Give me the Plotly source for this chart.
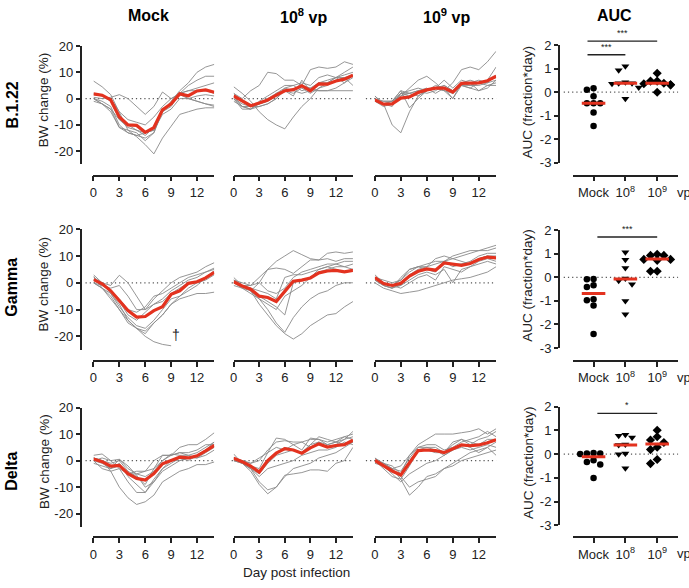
import plotly.graph_objects as go

W, H = 689, 588
FONT = "Liberation Sans, Arial, Helvetica, sans-serif"
INK = "#222222"
GREY = "#8a8a8a"
RED = "#e3321f"

# ---------------- data ----------------
days = list(range(15))
variants = ["B.1.22", "Gamma", "Delta"]
groups = ["Mock", "10<sup>8</sup> vp", "10<sup>9</sup> vp"]
auc_labels = ["Mock", "10<sup>8</sup>", "10<sup>9</sup>"]
day_ticks = [0, 3, 6, 9, 12]
bw_ticks = [20, 10, 0, -10, -20]
bw_ticktext = ["20", "10", "0", "-10", "-20"]
auc_ticks = [2, 1, 0, -1, -2, -3]
auc_ticktext = ["2", "1", "0", "-1", "-2", "-3"]

# body-weight change (%) of individual animals, days 0..14
b122_mock = [
    [6.7, 4.5, 1.5, -5, -12, -14.5, -17.5, -21, -15, -10.5, -6, -5, -4, -3.5, -3.5],
    [0.5, 0, 0.5, 1.5, 0, -3, -6, -3, 2.5, 0, 1.5, 0, -1, -2, -2.5],
    [0, -1, -3, -10, -13, -14, -15, -13, -4, -2, 2, 5, 7, 8.5, 8.5],
    [1.5, 1, -1, -8, -10, -12, -14, -11, -5, -1, 3, 6, 10, 12, 13],
    [0, -2, -5, -11, -12, -13, -16, -13, -5, -3, 2, 3, 4, 5, 6],
    [2, 1, 0, -5, -8, -9, -10, -7, -3, 0, 2, 3, 3, 3, 2],
    [0, -2, -4, -8, -11, -12, -13, -12, -6, -4, 0, 0, 1, 1.5, 1],
    [-1, -2, -4, -11, -13, -14, -13, -12, -4, -2, 2, 0, -1, -2, -3],
]
b122_mock_mean = [1.8, 1.3, -0.5, -7, -10, -10.2, -12.8, -11, -4.3, -2, 1.8, 1.1, 2.9, 3.3, 2.4]

b122_e8 = [
    [4.5, 2, -1, -5, -8, -10, -11.5, -7, -3, 0, 4, 6, 8, 8, 5],
    [2, 0, 3, 5, 10, 9.5, 7, 7, 5, 4, 3, 3, 3, 3, 3],
    [0, -3, -4, -3, -2, 0, 3, 3, 5, 11, 12, 11.5, 12, 14, 13],
    [1, -3, -4, -2, -1, 2, 4, 5, 6, 5, 8, 9, 8, 9, 10],
    [0, -4, -4, -1, 1, 3, 5, 5, 3, 4, 6, 7, 8, 10, 12],
    [2, -1, -3, -2, -1, 1, 3, 2, 4, 2, 4, 5, 7, 8, 9],
    [0, -2, -3, -2, 0, 2, 3, 1, 7, 3, 6, 6, 8, 6, 8],
    [-1, -3, -3, -3, -2, 0, 4, 3, 2, 3, 3, 3, 4, 6, 9],
]
b122_e8_mean = [1, -0.9, -2.7, -1.7, -0.5, 1.3, 3, 3.4, 4.9, 3, 5.6, 5.5, 6.7, 7.4, 8.9]

b122_e9 = [
    [0, -2, -10, -13, -5, 1, 3, 4, 5, 3, 6, 7, 6, 5, 6],
    [-1, -3, -2, 1, 4, 7, 8.5, 6, 3, 6, 11, 12, 11, 14, 18],
    [1, -2, -1, 3, -3.5, 0, 3, 4, 3, 2, 5, 5, 6, 7, 12],
    [0, -1, -1, 3, 2, 3, 4, 2, 4, 0, 6, 6, 3, 5, 5],
    [-1, -2, -1, 1, 2, 3, 2, 3, 5, 3, 6, 5, 5, 6, 7],
    [0, -2, -2, 2, 1, 2, 3, 5, 4, 2, 5, 4, 6, 7, 8],
    [-1, -1, -1, 2, 3, 4, 3, 4, 3, 0, 5, 4, 3, 4, 7],
    [1, -2, -3, 2, 2, 1, 3, 4, 7, 4, 7, 6, 7, 6, 9],
]
b122_e9_mean = [-0.5, -2.1, -2, 0.2, 0.6, 2.3, 3.3, 4, 4, 2.5, 5.8, 5.8, 6, 6.8, 8.5]

gamma_mock = [
    [2.5, -2, -6, -10, -14, -17, -20, -22, -23, -23.5, None, None, None, None, None],
    [3, 0, -1, 2.8, 0, -5, -10, -6, -3, 0, 2, 3, 4, 6, 7.5],
    [1, -1, -3, -6, -10, -11, -9, -5, -4, -2, 0, 2, 3, 4, 5],
    [0, -2, -5, -10, -15, -17, -18, -15, -12, -8, -6, -5, -4, -4, -3.5],
    [2, 0, -3, -7, -12, -14, -11, -8, -6, -3, -1, 1, 2, 4, 5.5],
    [0, -1, -2, -1, -5, -10, -10, -8, -7, -4, -2, 0, 0, 1, 3],
    [1, 0, -4, -9, -13, -16, -17, -14, -10, -6, -5, -3, -1, 2, 4],
    [0, -2, -4, -8, -14, -17, -19, -15, -12, -8, -5, -2, 0, 2, 4.5],
]
gamma_mock_mean = [1.2, -0.4, -3, -6.7, -10.4, -12.8, -12.6, -10.4, -8.9, -4.3, -3, -0.2, 0.4, 1.8, 3.9]

gamma_e8 = [
    [2, -1, -3, 0, 5, 8, 10, 12, 10.5, 9, 8.5, 11, 11.5, 11, 11.5],
    [1, -1, -1, 2, 5, 5.5, 5, 3.5, 6, 8.5, 8.5, 9, 8, 9, 9],
    [0, -2, -4, -6, -10, -15, -18.5, -13, -9, -6, -4, -3, -1, 0, 0],
    [1, -1, -3, -8, -12, -16, -19, -21, -19, -16, -14, -12, -11.5, -9, -7],
    [0, -1, -2, -5, -7, -9, -12, 0, 1, 2, 5, 6, 7, 6, 7],
    [-1, -2, -3, -6, -8, -10, -5, -3, -1, 2, 4, 5, 6, 6, 5],
    [0, -1, -2, -3, -4, -6, 2, 3, 3, 4, 5, 6, 5, 4, 5],
    [1, 0, -1, 0, -3, -4, -2, 2, 4, 5, 6, 7, 7, 8, 8],
]
gamma_e8_mean = [0.4, -1.2, -2.4, -5, -5.5, -7, -3.2, 0.6, 1, 1.8, 3.7, 4.4, 4.6, 4.1, 4.6]

gamma_e9 = [
    [2, -1, -2, -1, 3, 5, 6, 7, 8, 10, 11, 12, 12, 13, 14],
    [1, -1, -2, 2, 5, 6, 7, 8, 8, 9, 10, 11, 12, 12, 13],
    [2, 0, -1, 1, 4, 6, 5, 5, 8, 6, 7, 8, 10, 11, 11],
    [0, -2, -3, -4, -3.5, -3, -2, -1, 0, 1, 1.5, 2, 3, 4, 6],
    [3, 0, -1, -1, 1, 3, 4, 3, 5, 0, 5, 6, 8, 9, 8],
    [1, -1, -2, 0, 3, 4, 5, 4, 8, 7, 7, 7, 9, 10, 9],
    [2, 0, -1, -2, 0, 2, 3, 1, 6, 5, 4, 6, 7, 8, 7],
    [2, 1, 0, 1, 5, 6, 6, 9, 10, 9, 8, 7, 9, 10, 10],
]
gamma_e9_mean = [1.9, -0.3, -1, -0.2, 2.5, 4.3, 5.2, 4.7, 7.4, 6.8, 6.5, 7.2, 8.7, 9.6, 9.3]

delta_mock = [
    [1, 0, -4, -10, -14, -16.5, -15.5, -13, -8, -6, -4, -3, -1.5, -1.5, -0.5],
    [2, 2.5, 0, -3, -5, -5, -4, 0, 2, 2, 5, 6, 6, 8, 10.5],
    [0, -1, -3, 0.5, -2, -5.5, -10, -8, -3, 0, 0, 1, 2, 4, 6],
    [1, 0, -3, -1, -6, -9, -12, -7, -3, -1, 1, 0, 2, 4, 7],
    [0, -3, -4, -3, -8, -12, -12, -8, -4, -2, 0, 1, 1, 3, 5],
    [0, 1, 0, 0.5, -3, -5, -6, -4, 0, 2, 3, 2, 3, 5, 7],
    [1, 0, -1, 0, -4, -6, -9, -3, 2, 2, 3, 3, 4, 6, 6],
    [-1, -2, -3, -2, -5, -4, -4, -3, 0, 2.5, 2, 2, 1, 2, 4],
]
delta_mock_mean = [0.6, -0.4, -2.1, -1.8, -4.9, -6.7, -7.3, -4.9, -1.2, -0.1, 1.3, 1, 1.8, 3.7, 5.7]

delta_e8 = [
    [2.5, -1, -4, -9, -12.5, -10, -6, -3, -2, -1, 1, 2, 3, 5, 7],
    [1, -1, -3, -8, -11, -10, -5.5, -5, -4.5, -3.5, -3.5, -4, -1, 0, 5],
    [0, -1, -2, -3, 3, 8.5, 8, 6, 4, 8.5, 8, 6, 7, 8, 11],
    [1, 0, -1, 0, 4, 7, 7.5, 7, 7, 8, 8, 7, 8, 9, 8],
    [0, 0, -2, -4, -1, 3, 5, 4, 3, 6, 9, 8, 7, 9, 10],
    [1, -1, -3, -6, -3, -2, -1, 0, 2, 3, 4, 4, 5, 7, 6],
    [0, -1, -3, -5, -1, 2, 3, 4, 3, 6, 7, 5, 6, 8, 9],
    [1, 0, -1, 1, 3, 5, 4, 6, 7, 5, 7, 6, 7, 6, 7],
]
delta_e8_mean = [0.9, -0.4, -2.1, -4.3, 0, 2.8, 4.5, 4, 2.8, 4.8, 6.3, 5.1, 5.7, 6, 7.7]

delta_e9 = [
    [0, -1, -3, -7, -13, -10, -6, -5, -3, -1, 1, 3, 4, 5, 7],
    [1, -2, -4, -6, -10, -8, -7, -6, -3, -2, 0, 1, 2, 3, 4],
    [0, -1, -3, -2, 2, 6, 8, 10, 10, 10, 10.5, 11, 12, 10, 12],
    [-0.5, -2, -3, -4, 1, 5, 6, 6, 4, 5, 7, 8, 9, 11, 9],
    [1, -1, -2, -5, 0, 4, 5, 5, 3, 7, 8, 7, 6, 8, 8],
    [0, -2, -5, -8, -5, -3, -1, 0, 2, 4, 5, 4, 5, 6, 5],
    [0, -3, -6, -7, -2, 4, 4, 3, 3, 6, 8, 6, 8, 9, 11],
    [-1, -2, -4, -5, 2, 5, 5, 4, 2, 4, 6, 5, 3, 5, 2],
]
delta_e9_mean = [0.1, -2, -3.9, -5.4, -0.9, 3.8, 4, 3.8, 3, 4.6, 5.9, 5.6, 5.9, 6.7, 7.9]

# AUC (fraction*day) per animal and group medians
auc_b122 = [
    [0.17, 0.1, -0.17, -0.47, -0.47, -0.47, -0.86, -1.43],
    [1.1, 0.93, 0.42, 0.38, 0.36, 0.38, 0.2, -0.28],
    [0.8, 0.47, 0.47, 0.36, 0.31, 0.31, 0.38, 0.0],
]
auc_b122_median = [-0.47, 0.38, 0.38]
auc_gamma = [
    [-0.07, -0.34, -0.97, -0.08, -0.41, -0.93, -1.2, -2.4],
    [1.06, 0.74, 0.4, -0.29, -0.14, -1.0, -1.57, -0.05],
    [0.98, 0.93, 0.93, 0.76, 0.72, 0.76, 0.26, 0.26],
]
auc_gamma_median = [-0.69, -0.07, 0.78]
auc_delta = [
    [0.02, 0.0, 0.03, 0.05, -0.26, -0.33, -0.44, -1.01],
    [0.81, 0.7, 0.77, 0.4, 0.38, 0.02, -0.01, -0.6],
    [1.0, 0.49, 0.73, 0.59, 0.19, 0.29, -0.23, -0.4],
]
auc_delta_median = [-0.11, 0.38, 0.42]

# significance brackets: (row, from group, to group, label)
sig_marks = [
    (0, 0, 2, "***"),
    (0, 0, 1, "***"),
    (1, 0, 2, "***"),
    (2, 0, 2, "*"),
]

bw_data = [
    [(b122_mock, b122_mock_mean), (b122_e8, b122_e8_mean), (b122_e9, b122_e9_mean)],
    [(gamma_mock, gamma_mock_mean), (gamma_e8, gamma_e8_mean), (gamma_e9, gamma_e9_mean)],
    [(delta_mock, delta_mock_mean), (delta_e8, delta_e8_mean), (delta_e9, delta_e9_mean)],
]
auc_data = [(auc_b122, auc_b122_median), (auc_gamma, auc_gamma_median), (auc_delta, auc_delta_median)]

# ---------------- layout geometry (pixels) ----------------
bw_xpx = [(90, 211.5), (231, 351), (373, 495)]
bw_y20 = [40, 228, 411]        # pixel row of +20 %
bw_y0 = [94, 283, 465.5]       # pixel row of 0 %
xline_px = [173, 363, 544]     # pixel row of the x-axis lines
bw_yaxis_px = 77
auc_xpx = (572, 678)
auc_xrange = [-0.656, 2.656]
auc_y2 = [39, 229, 410]
auc_ym3 = [160, 350, 532]
auc_yaxis_px = 558


def bw_bottom(r):
    return bw_y0[r] + 25 * (bw_y0[r] - bw_y20[r]) / 20


def auc_val_to_px(r, v):
    return auc_y2[r] + (2 - v) * (auc_ym3[r] - auc_y2[r]) / 5


def auc_cat_to_px(c):
    return auc_xpx[0] + (c - auc_xrange[0]) * (auc_xpx[1] - auc_xpx[0]) / (auc_xrange[1] - auc_xrange[0])


def swarm(vals, ypx_unit, xpx_unit=32.0, step=0.21, d=6.0):
    res = [0.0] * len(vals)
    placed = []
    order = sorted(range(len(vals)), key=lambda i: -vals[i])
    cands = [0, -1, 1, -2, 2]
    for i in order:
        xo = 0.0
        for c in cands:
            xo = c * step
            if all(((xo - a) * xpx_unit) ** 2 + ((vals[i] - b) * ypx_unit) ** 2 >= d * d for a, b in placed):
                break
        placed.append((xo, vals[i]))
        res[i] = xo
    return res


def ann(x, y, text, size=13, bold=False, **kw):
    t = "<b>%s</b>" % text if bold else text
    d = dict(x=x / W, y=1 - y / H, xref="paper", yref="paper", text=t, showarrow=False,
             xanchor="center", yanchor="middle",
             font=dict(family=FONT, size=size, color="black" if bold else INK))
    d.update(kw)
    return d


fig = go.Figure()
layout = dict(
    width=W, height=H, autosize=False, margin=dict(l=0, r=0, t=0, b=0, pad=0),
    paper_bgcolor="white", plot_bgcolor="rgba(0,0,0,0)",
    showlegend=False, font=dict(family=FONT, size=13, color=INK),
)
shapes = []
annotations = []

axis_common = dict(showgrid=False, zeroline=False, showline=True, linecolor=INK, linewidth=1.6,
                   ticks="outside", tickcolor=INK, tickwidth=1.6,
                   tickfont=dict(family=FONT, size=13, color=INK))

for r in range(3):
    ydom = [1 - bw_bottom(r) / H, 1 - bw_y20[r] / H]
    for c in range(3):
        k = r * 4 + c + 1
        sx = "" if k == 1 else str(k)
        x0, x1 = bw_xpx[c]
        layout["xaxis" + sx] = dict(axis_common, domain=[x0 / W, x1 / W], range=[0, 14], anchor="free",
                                    position=1 - xline_px[r] / H, tickvals=day_ticks, ticklen=5)
        if c == 0:
            layout["yaxis" + sx] = dict(axis_common, domain=ydom, range=[-25, 20], anchor="free",
                                        position=bw_yaxis_px / W, tickvals=bw_ticks,
                                        ticktext=bw_ticktext, ticklen=4)
        else:
            layout["yaxis" + sx] = dict(domain=ydom, range=[-25, 20], anchor="free",
                                        position=x0 / W, visible=False)
        curves, mean = bw_data[r][c]
        for cv in curves:
            fig.add_trace(go.Scatter(x=days, y=cv, mode="lines", xaxis="x" + sx, yaxis="y" + sx,
                                     line=dict(color=GREY, width=0.9), connectgaps=False,
                                     hoverinfo="skip"))
        fig.add_trace(go.Scatter(x=days, y=mean, mode="lines", xaxis="x" + sx, yaxis="y" + sx,
                                 line=dict(color=RED, width=3.2)))
        # dotted zero reference
        zl = {0: (82, 212), 1: (229, 351), 2: (364, 495)}[c]
        shapes.append(dict(type="line", xref="paper", yref="paper", layer="below",
                           x0=zl[0] / W, x1=zl[1] / W, y0=1 - bw_y0[r] / H, y1=1 - bw_y0[r] / H,
                           line=dict(color="#555555", width=1.2, dash="1.2px,3px")))

    # AUC panel
    k = r * 4 + 4
    sx = str(k)
    layout["xaxis" + sx] = dict(axis_common, domain=[auc_xpx[0] / W, auc_xpx[1] / W], range=auc_xrange,
                                anchor="free", position=1 - xline_px[r] / H, tickvals=[0, 1, 2],
                                ticktext=auc_labels, ticklen=5)
    layout["yaxis" + sx] = dict(axis_common, domain=[1 - auc_ym3[r] / H, 1 - auc_y2[r] / H], range=[-3, 2],
                                anchor="free", position=auc_yaxis_px / W, tickvals=auc_ticks,
                                ticktext=auc_ticktext, ticklen=4)
    z = 1 - auc_val_to_px(r, 0) / H
    shapes.append(dict(type="line", xref="paper", yref="paper", layer="below",
                       x0=563 / W, x1=678 / W, y0=z, y1=z,
                       line=dict(color="#555555", width=1.2, dash="1.2px,3px")))
    vals_groups, medians = auc_data[r]
    ypx_unit = (auc_ym3[r] - auc_y2[r]) / 5
    symbols = ["circle", "triangle-down", "diamond"]
    sizes = [6.5, 7, 7]
    for g in range(3):
        vals = vals_groups[g]
        offs = swarm(vals, ypx_unit)
        fig.add_trace(go.Scatter(x=[g + o for o in offs], y=vals, mode="markers",
                                 xaxis="x" + sx, yaxis="y" + sx, cliponaxis=False,
                                 marker=dict(symbol=symbols[g], size=sizes[g], color="black",
                                             line=dict(width=0))))
        fig.add_trace(go.Scatter(x=[g - 0.37, g + 0.37], y=[medians[g]] * 2, mode="lines",
                                 xaxis="x" + sx, yaxis="y" + sx,
                                 line=dict(color=RED, width=3)))

# significance brackets
sig_geom = {(0, 0, 2): (-0.19, 35), (0, 0, 1): (-0.19, 49), (1, 0, 2): (0.12, 236), (2, 0, 2): (0.12, 417)}
for (r, a, b, lab) in sig_marks:
    start, ypx = sig_geom[(r, a, b)]
    xa = auc_cat_to_px(a + start)
    xb = auc_cat_to_px(b)
    shapes.append(dict(type="line", xref="paper", yref="paper", x0=xa / W, x1=xb / W,
                       y0=1 - ypx / H, y1=1 - ypx / H, line=dict(color=INK, width=1.3)))
    annotations.append(ann((xa + xb) / 2, ypx - 1, lab, size=9, yanchor="bottom"))

# column headers
for txt, xc in zip(groups + ["AUC"], [145, 301, 445, 614]):
    annotations.append(ann(xc, 9, txt, size=16, bold=True))
# row labels and y titles
row_lab_y = [100, 287, 476]
bw_title_y = [95, 284, 466]
auc_title_y = [97, 285, 467]
for r in range(3):
    annotations.append(ann(8, row_lab_y[r], variants[r], size=16, bold=True, textangle=-90))
    annotations.append(ann(40, bw_title_y[r], "BW change (%)", size=13.5, textangle=-90))
    annotations.append(ann(527, auc_title_y[r], "AUC (fraction*day)", size=13.5, textangle=-90))
    annotations.append(ann(675, xline_px[r] + 17, "vp", size=13, xanchor="left"))

annotations.append(ann(294, 580, "Day post infection", size=13.5))
# dagger marking the animal that died (Gamma, Mock)
annotations.append(dict(x=9.6, y=-19.6, xref="x5", yref="y5", text="†", showarrow=False,
                        xanchor="center", yanchor="middle",
                        font=dict(family=FONT, size=14, color=INK)))

layout["shapes"] = shapes
layout["annotations"] = annotations
fig.update_layout(**layout)
fig.write_html("out.html", config={"displayModeBar": False},
               post_script="document.body.style.margin='0';document.body.style.overflow='hidden';")
